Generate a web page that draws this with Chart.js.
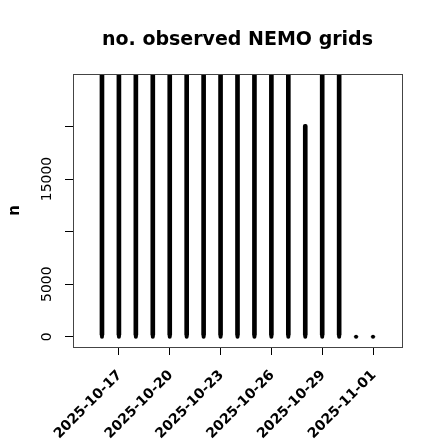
<!DOCTYPE html>
<html>
<head>
<meta charset="utf-8">
<script src="https://cdn.jsdelivr.net/npm/chart.js@4/dist/chart.umd.min.js"></script>
<style>
html,body{margin:0;padding:0;background:#fff;}
#c{display:block;}
</style>
</head>
<body>
<canvas id="c" width="440" height="440"></canvas>
<script>
// ---- data ----
const dates = ["2025-10-16","2025-10-17","2025-10-18","2025-10-19","2025-10-20","2025-10-21",
  "2025-10-22","2025-10-23","2025-10-24","2025-10-25","2025-10-26","2025-10-27",
  "2025-10-28","2025-10-29","2025-10-30","2025-10-31","2025-11-01"];
const counts = [26000,26000,26000,26000,26000,26000,26000,26000,26000,26000,26000,26000,
  20200,26000,26000,0,0];
const xTickLabels = ["2025-10-17","2025-10-20","2025-10-23","2025-10-26","2025-10-29","2025-11-01"];
const yTickValues = [0,5000,10000,15000,20000];
const yTickLabels = ["0","5000","","15000",""];
const titleText = "no. observed NEMO grids";
const yAxisTitle = "n";

const DAY = 864e5;
const t0 = Date.parse(dates[0]);
const toDay = s => (Date.parse(s) - t0) / DAY;

const barData = dates.map((d,i) => ({x: toDay(d), y: counts[i]}));
const baseData = dates.map((d,i) => ({x: toDay(d), y: 0}));

const FONT = "'DejaVu Sans', sans-serif";

const boxPlugin = {
  id: 'boxAndLabels',
  afterDraw(chart) {
    const ctx = chart.ctx, ca = chart.chartArea, ys = chart.scales.y, xs = chart.scales.x;
    ctx.save();
    ctx.strokeStyle = '#444';
    ctx.lineWidth = 1;
    ctx.strokeRect(Math.round(ca.left)+0.5, Math.round(ca.top)+0.5,
                   Math.round(ca.right-ca.left), Math.round(ca.bottom-ca.top));
    ctx.fillStyle = '#000';
    // title
    ctx.font = "bold 19px " + FONT;
    ctx.textAlign = 'center';
    ctx.textBaseline = 'alphabetic';
    ctx.fillText(titleText, (ca.left + ca.right)/2, 45);
    // y tick labels (rotated, parallel to axis)
    ctx.font = "14px " + FONT;
    ctx.textBaseline = 'middle';
    yTickValues.forEach((v,i) => {
      if (!yTickLabels[i]) return;
      const py = ys.getPixelForValue(v);
      ctx.save();
      ctx.translate(47.5, py);
      ctx.rotate(-Math.PI/2);
      ctx.fillText(yTickLabels[i], 0, 0);
      ctx.restore();
    });
    // x tick labels, 45 degrees
    ctx.font = "bold 14px " + FONT;
    ctx.textAlign = 'right';
    ctx.textBaseline = 'middle';
    xTickLabels.forEach(l => {
      const px = xs.getPixelForValue(toDay(l));
      ctx.save();
      ctx.translate(px + 1, ca.bottom + 26);
      ctx.rotate(-Math.PI/4);
      ctx.fillText(l, 0, 0);
      ctx.restore();
    });
    // y axis title
    ctx.font = "bold 15px " + FONT;
    ctx.textAlign = 'center';
    ctx.textBaseline = 'alphabetic';
    ctx.save();
    ctx.translate(18.5, (ca.top+ca.bottom)/2);
    ctx.rotate(-Math.PI/2);
    ctx.fillText(yAxisTitle, 0, 0);
    ctx.restore();
    ctx.restore();
  }
};

new Chart(document.getElementById('c'), {
  type: 'bar',
  data: {
    datasets: [
      {
        type: 'bar',
        data: barData,
        backgroundColor: '#000',
        barThickness: 4,
        borderRadius: 2,
        borderSkipped: false,
        clip: 0
      },
      {
        type: 'scatter',
        data: baseData,
        backgroundColor: '#000',
        borderWidth: 0,
        pointRadius: 2,
        clip: 0
      }
    ]
  },
  options: {
    responsive: false,
    animation: false,
    events: [],
    layout: {padding: {left: 0, right: 38, top: 74, bottom: 0}},
    plugins: {
      legend: {display: false},
      tooltip: {enabled: false},
      title: {display: false}
    },
    scales: {
      x: {
        type: 'linear',
        min: -1.71,
        max: 17.71,
        offset: false,
        afterFit(s) { s.height = 93; s.paddingLeft = 0; s.paddingRight = 0; },
        afterBuildTicks(s) { s.ticks = xTickLabels.map(l => ({value: toDay(l)})); },
        grid: {offset: false, drawOnChartArea: false, drawTicks: true, tickLength: 8, color: '#000'},
        border: {display: false},
        ticks: {display: false, autoSkip: false}
      },
      y: {
        type: 'linear',
        min: -968,
        max: 24981,
        afterFit(s) { s.width = 73; s.paddingTop = 0; s.paddingBottom = 0; },
        afterBuildTicks(s) { s.ticks = yTickValues.map(v => ({value: v})); },
        grid: {drawOnChartArea: false, drawTicks: true, tickLength: 8, color: '#000'},
        border: {display: false},
        ticks: {display: false}
      }
    }
  },
  plugins: [boxPlugin]
});
</script>
</body>
</html>
